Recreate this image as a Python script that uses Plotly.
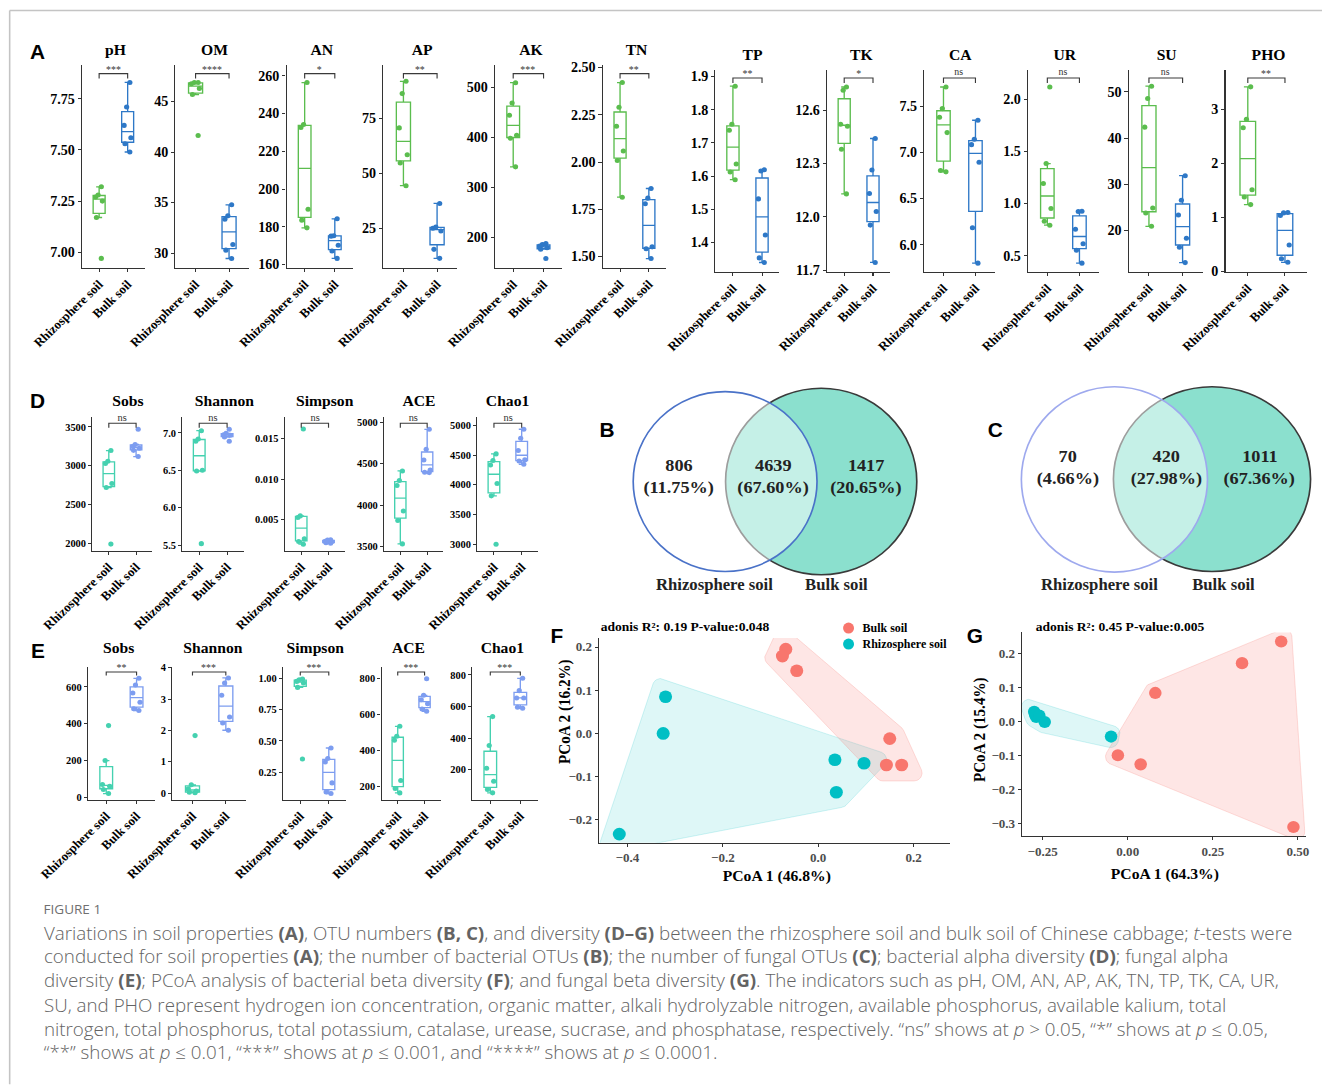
import numpy as np
import plotly.graph_objects as go

W, H = 1322, 1085
SERIF = "Liberation Serif"
SANS = "Liberation Sans"
CAPF = "Open Sans"

groups = ["Rhizosphere soil", "Bulk soil"]

# ---------------- Panel A: soil properties ----------------
soil_titles = ["pH", "OM", "AN", "AP", "AK", "TN", "TP", "TK", "CA", "UR", "SU", "PHO"]
soil_sig = ["***", "****", "*", "**", "***", "**", "**", "*", "ns", "ns", "ns", "**"]
pH_rhizo = [7.32, 7.28, 7.27, 7.25, 7.17, 6.97]
pH_bulk = [7.83, 7.71, 7.62, 7.56, 7.53, 7.49]
OM_rhizo = [46.88, 46.88, 46.75, 46.29, 45.69, 41.64]
OM_bulk = [34.78, 33.69, 33.36, 30.86, 30.30, 29.47]
AN_rhizo = [256.5, 234.2, 232.6, 189.3, 183.5, 179.4]
AN_bulk = [184.2, 175.2, 175.0, 170.2, 167.1, 163.2]
AP_rhizo = [91.9, 86.3, 70.7, 58.5, 54.7, 44.4]
AP_bulk = [36.3, 25.6, 25.0, 23.8, 15.4, 11.3]
AK_rhizo = [508.6, 468.1, 443.5, 403.5, 397.6, 340.4]
AK_bulk = [187.4, 185.0, 182.0, 179.0, 176.0, 157.4]
TN_rhizo = [2.421, 2.290, 2.190, 2.059, 2.008, 1.814]
TN_bulk = [1.860, 1.809, 1.779, 1.551, 1.541, 1.489]
TP_rhizo = [1.871, 1.756, 1.738, 1.636, 1.612, 1.589]
TP_bulk = [1.619, 1.615, 1.531, 1.422, 1.353, 1.339]
TK_rhizo = [12.731, 12.713, 12.521, 12.510, 12.381, 12.129]
TK_bulk = [12.441, 12.264, 12.131, 12.030, 11.953, 11.743]
CA_rhizo = [7.709, 7.475, 7.381, 7.215, 6.804, 6.790]
CA_bulk = [7.349, 7.143, 7.085, 6.894, 6.184, 5.802]
UR_rhizo = [2.118, 1.384, 1.193, 0.953, 0.832, 0.794]
UR_bulk = [0.928, 0.925, 0.755, 0.615, 0.554, 0.430]
SU_rhizo = [51.22, 48.56, 42.37, 24.89, 23.81, 20.94]
SU_bulk = [31.87, 26.55, 23.38, 18.35, 16.40, 13.09]
PHO_rhizo = [3.411, 2.810, 2.656, 1.509, 1.374, 1.233]
PHO_bulk = [1.086, 1.080, 1.031, 0.485, 0.233, 0.166]

# ---------------- Panel D: bacterial alpha diversity ----------------
alpha_titles = ["Sobs", "Shannon", "Simpson", "ACE", "Chao1"]
bac_sig = ["ns", "ns", "ns", "ns", "ns"]
Sobs_bac_rhizo = [3197, 3060, 3030, 2774, 2722, 1996]
Sobs_bac_bulk = [3470, 3275, 3250, 3228, 3200, 3120]
Shannon_bac_rhizo = [7.03, 6.92, 6.89, 6.50, 6.49, 5.52]
Shannon_bac_bulk = [7.05, 6.995, 6.975, 6.97, 6.945, 6.89]
Simpson_bac_rhizo = [0.01624, 0.005455, 0.005248, 0.002603, 0.002273, 0.001942]
Simpson_bac_bulk = [0.00250, 0.00245, 0.00230, 0.00225, 0.00212, 0.00205]
ACE_bac_rhizo = [4415, 4300, 4240, 3931, 3815, 3532]
ACE_bac_bulk = [4919, 4677, 4548, 4427, 4399, 4395]
Chao1_bac_rhizo = [4520, 4410, 4335, 4022, 3816, 3006]
Chao1_bac_bulk = [4933, 4782, 4575, 4419, 4402, 4346]

# ---------------- Panel E: fungal alpha diversity ----------------
fun_sig = ["**", "***", "***", "***", "***"]
Sobs_fun_rhizo = [389.7, 199.4, 68.9, 59.8, 41.7, 19.9]
Sobs_fun_bulk = [647, 611, 567, 517, 481, 472]
Shannon_fun_rhizo = [1.84, 0.27, 0.14, 0.07, 0.03, 0.02]
Shannon_fun_bulk = [3.681, 3.521, 3.128, 2.436, 2.245, 2.011]
Simpson_fun_rhizo = [0.995, 0.989, 0.976, 0.963, 0.928, 0.356]
Simpson_fun_bulk = [0.444, 0.360, 0.332, 0.165, 0.093, 0.080]
ACE_fun_rhizo = [535.2, 479.6, 457.4, 233.3, 188.9, 164.8]
ACE_fun_bulk = [800.0, 707.4, 683.3, 661.0, 631.5, 618.5]
Chao1_fun_rhizo = [536.8, 353.7, 210.5, 128.4, 75.8, 54.7]
Chao1_fun_bulk = [779, 701, 654.7, 654.7, 595.8, 589.5]

# ---------------- Venn (B, C) ----------------
venn_labels = ["Rhizosphere soil", "Bulk soil"]
venn_B = [806, 4639, 1417]
venn_C = [70, 420, 1011]

# ---------------- PCoA (F, G) ----------------
F_bulk_pc1 = [-0.068, -0.075, -0.045, 0.150, 0.143, 0.175]
F_bulk_pc2 = [0.195, 0.179, 0.145, -0.012, -0.073, -0.073]
F_rhizo_pc1 = [-0.320, -0.325, 0.035, 0.096, 0.038, -0.417]
F_rhizo_pc2 = [0.085, 0.000, -0.061, -0.069, -0.136, -0.233]
G_bulk_pc1 = [0.451, 0.336, 0.081, -0.029, 0.038, 0.487]
G_bulk_pc2 = [0.237, 0.173, 0.085, -0.099, -0.126, -0.311]
G_rhizo_pc1 = [-0.275, -0.272, -0.269, -0.260, -0.244, -0.049]
G_rhizo_pc2 = [0.029, 0.020, 0.014, 0.018, -0.001, -0.044]
F_stats = "adonis R²: 0.19 P-value:0.048"
G_stats = "adonis R²: 0.45 P-value:0.005"
F_axis_titles = ["PCoA 1 (46.8%)", "PCoA 2 (16.2%)"]
G_axis_titles = ["PCoA 1 (64.3%)", "PCoA 2 (15.4%)"]

# ---------------- styles / geometry ----------------
GREEN, BLUE = "#5BBD4E", "#2E78C7"
TEAL, PERI = "#45D1B0", "#7D9DF0"
RED, CYAN = "#F8766D", "#00BFC4"
AXC = "#333333"


def fx(x):
    return x / W


def fy(y):
    return 1 - y / H


fig = go.Figure()
layout_axes = {}
shapes = []
annotations = []
counter = [0]


def new_axes():
    counter[0] += 1
    i = counter[0]
    s = "" if i == 1 else str(i)
    return "x" + s, "y" + s, "xaxis" + s, "yaxis" + s


def axis_style(**kw):
    d = dict(showline=True, linecolor=AXC, linewidth=1.3, ticks="outside", ticklen=3,
             tickwidth=1, tickcolor=AXC, showgrid=False, zeroline=False, fixedrange=True)
    d.update(kw)
    return d


def box_stats(vals):
    v = np.sort(np.asarray(vals, float))
    q1, med, q3 = np.percentile(v, [25, 50, 75])
    iqr = q3 - q1
    lo = v[v >= q1 - 1.5 * iqr].min()
    hi = v[v <= q3 + 1.5 * iqr].max()
    return q1, med, q3, lo, hi


def add_text(x, y, text, size, family=SERIF, bold=True, color="black", xanchor="center",
             yanchor="middle", angle=0, weight=None):
    w = weight if weight is not None else ("bold" if bold else "normal")
    annotations.append(dict(x=fx(x), y=fy(y), xref="paper", yref="paper", text=text,
                            showarrow=False, xanchor=xanchor, yanchor=yanchor, textangle=angle,
                            font=dict(family=family, size=size, color=color, weight=w)))


def add_box_panel(rhizo, bulk, x0, x1, y0, y1, yr, tick0, dtick, fmt, tfs, cols,
                  title, tx, ty, sig, br_top, br_leg, sig_fs):
    xr, yrf, xk, yk = new_axes()
    layout_axes[xk] = axis_style(domain=[fx(x0), fx(x1)], anchor=yrf, range=[0.4, 2.6],
                                 tickmode="array", tickvals=[1, 2], ticktext=groups,
                                 tickangle=-45,
                                 tickfont=dict(family=SERIF, size=12.5, color="black", weight="bold"))
    layout_axes[yk] = axis_style(domain=[fy(y1), fy(y0)], anchor=xr, range=list(yr),
                                 tick0=tick0, dtick=dtick, tickformat=fmt,
                                 tickfont=dict(family=SERIF, size=tfs, color="black", weight="bold"))
    for pos, vals, col in ((1, rhizo, cols[0]), (2, bulk, cols[1])):
        q1, med, q3, lo, hi = box_stats(vals)
        fig.add_trace(go.Box(x=[pos], q1=[q1], median=[med], q3=[q3], lowerfence=[lo],
                             upperfence=[hi], width=0.42, fillcolor="white",
                             line=dict(color=col, width=1.3), boxpoints=False,
                             orientation="v", xaxis=xr, yaxis=yrf, hoverinfo="skip"))
        fig.add_trace(go.Box(x=[pos] * len(vals), y=vals, width=0.42, boxpoints="all",
                             jitter=0.7, pointpos=0, fillcolor="rgba(0,0,0,0)",
                             line=dict(color="rgba(0,0,0,0)", width=0),
                             marker=dict(color=col, size=5), orientation="v",
                             xaxis=xr, yaxis=yrf, hoverinfo="skip"))
    add_text(tx, ty, title, 15)
    shapes.append(dict(type="path", xref=xr, yref="paper",
                       path=f"M 1,{fy(br_leg)} L 1,{fy(br_top)} L 2,{fy(br_top)} L 2,{fy(br_leg)}",
                       line=dict(color="#3a3a3a", width=1.1)))
    off = 1.5 if sig == "ns" else 3.5
    annotations.append(dict(x=1.5, xref=xr, y=fy(br_top + off), yref="paper", text=sig,
                            showarrow=False, xanchor="center", yanchor="bottom",
                            font=dict(family=SERIF, size=sig_fs, color="#333333")))


# ---- Panel A ----
A_data = [(pH_rhizo, pH_bulk), (OM_rhizo, OM_bulk), (AN_rhizo, AN_bulk), (AP_rhizo, AP_bulk),
          (AK_rhizo, AK_bulk), (TN_rhizo, TN_bulk), (TP_rhizo, TP_bulk), (TK_rhizo, TK_bulk),
          (CA_rhizo, CA_bulk), (UR_rhizo, UR_bulk), (SU_rhizo, SU_bulk), (PHO_rhizo, PHO_bulk)]
A_geom = [(82.3, 145.0, 116), (175.7, 249.3, 215), (286.7, 353.0, 322), (383.3, 457.3, 422),
          (495.0, 561.7, 531), (602.7, 666.0, 636), (715.3, 779.3, 752), (826.7, 890.0, 861),
          (924.0, 994.3, 960), (1027.7, 1098.3, 1065), (1128.3, 1202.3, 1166), (1225.0, 1306.7, 1268)]
A_yr = [(6.924, 7.917), (28.55, 48.65), (158.2, 266.0), (7, 99.5), (138.7, 544.7), (1.44, 2.516),
        (1.311, 1.921), (11.69, 12.829), (5.708, 7.897), (0.347, 2.284), (11.1, 54.8), (-0.01, 3.73)]
A_ticks = [(7.0, 0.25, ".2f"), (0, 5, ""), (0, 20, ""), (0, 25, ""), (0, 100, ""), (1.5, 0.25, ".2f"),
           (1.4, 0.1, ".1f"), (11.7, 0.3, ".1f"), (6.0, 0.5, ".1f"), (0.5, 0.5, ".1f"), (0, 10, ""), (0, 1, "")]
for k in range(12):
    (r, b), (x0, x1, tx), yr, (t0, dt, fmt) = A_data[k], A_geom[k], A_yr[k], A_ticks[k]
    if k < 6:
        y0, y1, ty, bt, bl = 64.3, 267.7, 50, 73.3, 78.3
    else:
        y0, y1, ty, bt, bl = 69.3, 271.7, 55, 77.7, 82.7
    add_box_panel(r, b, x0, x1, y0, y1, yr, t0, dt, fmt, 13.5, (GREEN, BLUE),
                  soil_titles[k], tx, ty, soil_sig[k], bt, bl, 9.5)

# ---- Panel D ----
D_data = [(Sobs_bac_rhizo, Sobs_bac_bulk), (Shannon_bac_rhizo, Shannon_bac_bulk),
          (Simpson_bac_rhizo, Simpson_bac_bulk), (ACE_bac_rhizo, ACE_bac_bulk),
          (Chao1_bac_rhizo, Chao1_bac_bulk)]
D_geom = [(92.7, 152.7, 128.3), (182.7, 244.0, 224.3), (285.0, 345.0, 325.7), (384.3, 443.3, 419.0),
          (477.3, 538.3, 507.3)]
D_yr = [(1914, 3625), (5.428, 7.21), (0.00116, 0.01769), (3452, 5065), (2900, 5134)]
D_ticks = [(0, 500, ""), (5.5, 0.5, ".1f"), (0, 0.005, ".3f"), (0, 500, ""), (0, 500, "")]
for k in range(5):
    (r, b), (x0, x1, tx), yr, (t0, dt, fmt) = D_data[k], D_geom[k], D_yr[k], D_ticks[k]
    add_box_panel(r, b, x0, x1, 417.3, 550.7, yr, t0, dt, fmt, 10, (TEAL, PERI),
                  alpha_titles[k], tx, 401.7, bac_sig[k], 423.3, 427.7, 10)

# ---- Panel E ----
E_data = [(Sobs_fun_rhizo, Sobs_fun_bulk), (Shannon_fun_rhizo, Shannon_fun_bulk),
          (Simpson_fun_rhizo, Simpson_fun_bulk), (ACE_fun_rhizo, ACE_fun_bulk),
          (Chao1_fun_rhizo, Chao1_fun_bulk)]
E_geom = [(88.3, 155.0, 118.7), (172.7, 246.0, 213.7), (283.3, 346.0, 316.3), (381.7, 440.7, 408.3),
          (472.3, 538.3, 502.3)]
E_yr = [(-12.5, 708.7), (-0.2, 4.03), (0.032, 1.091), (127.8, 865), (12.4, 850.5)]
E_ticks = [(0, 200, ""), (0, 1, ""), (0, 0.25, ".2f"), (0, 200, ""), (0, 200, "")]
for k in range(5):
    (r, b), (x0, x1, tx), yr, (t0, dt, fmt) = E_data[k], E_geom[k], E_yr[k], E_ticks[k]
    add_box_panel(r, b, x0, x1, 667.3, 800.0, yr, t0, dt, fmt, 10, (TEAL, PERI),
                  alpha_titles[k], tx, 648.3, fun_sig[k], 672.3, 675.7, 9.5)


# ---- PCoA panels ----
def convex_hull(pts):
    pts = sorted(set(map(tuple, np.round(np.asarray(pts), 6))))

    def cross(o, a, b):
        return (a[0] - o[0]) * (b[1] - o[1]) - (a[1] - o[1]) * (b[0] - o[0])

    lower, upper = [], []
    for p in pts:
        while len(lower) >= 2 and cross(lower[-2], lower[-1], p) <= 0:
            lower.pop()
        lower.append(p)
    for p in reversed(pts):
        while len(upper) >= 2 and cross(upper[-2], upper[-1], p) <= 0:
            upper.pop()
        upper.append(p)
    return np.array(lower[:-1] + upper[:-1], float)


def mark_hull(xs, ys, sx, sy, expand, radius, limit=3.0):
    """Expanded hull with rounded corners (mitred offset, then rounded)."""
    p = np.column_stack([np.asarray(xs) * sx, np.asarray(ys) * sy])
    hull = convex_hull(p)
    n = len(hull)
    d = expand - radius
    offs = []
    for i in range(n):
        a, b, c = hull[i - 1], hull[i], hull[(i + 1) % n]
        e1, e2 = b - a, c - b
        n1 = np.array([e1[1], -e1[0]]) / np.linalg.norm(e1)
        n2 = np.array([e2[1], -e2[0]]) / np.linalg.norm(e2)
        den = 1 + n1 @ n2
        if den < 2.0 / limit ** 2:
            offs.append(b + d * n1)
            offs.append(b + d * n2)
        else:
            offs.append(b + d * (n1 + n2) / den)
    offs = np.array(offs)
    ang = np.linspace(0, 2 * np.pi, 48, endpoint=False)
    ring = np.column_stack([np.cos(ang), np.sin(ang)]) * radius
    allp = (offs[:, None, :] + ring[None, :, :]).reshape(-1, 2)
    h = convex_hull(allp)
    h = np.vstack([h, h[:1]])
    return h[:, 0] / sx, h[:, 1] / sy


def add_pcoa(bx, by, rx, ry, x0, x1, y0, y1, xrng, yrng, xdt, xfmt, expand, radius, msize):
    xr, yrf, xk, yk = new_axes()
    tf = dict(family=SERIF, size=12.5, color="#4D4D4D", weight="bold")
    layout_axes[xk] = axis_style(domain=[fx(x0), fx(x1)], anchor=yrf, range=list(xrng),
                                 tick0=0, dtick=xdt, tickformat=xfmt, tickfont=tf)
    layout_axes[yk] = axis_style(domain=[fy(y1), fy(y0)], anchor=xr, range=list(yrng),
                                 tick0=0, dtick=0.1, tickformat=".1f", tickfont=tf)
    sx = (x1 - x0) / (xrng[1] - xrng[0])
    sy = (y1 - y0) / (yrng[1] - yrng[0])
    for xs, ys, fill, edge in ((rx, ry, "rgba(0,191,196,0.13)", "rgba(0,191,196,0.22)"),
                               (bx, by, "rgba(248,118,109,0.18)", "rgba(248,118,109,0.28)")):
        hx, hy = mark_hull(xs, ys, sx, sy, expand, radius)
        fig.add_trace(go.Scatter(x=hx, y=hy, mode="lines", fill="toself", fillcolor=fill,
                                 line=dict(color=edge, width=0.8),
                                 xaxis=xr, yaxis=yrf, hoverinfo="skip"))
    for xs, ys, col in ((bx, by, RED), (rx, ry, CYAN)):
        fig.add_trace(go.Scatter(x=xs, y=ys, mode="markers", marker=dict(color=col, size=msize),
                                 xaxis=xr, yaxis=yrf, hoverinfo="skip", cliponaxis=False))


add_pcoa(F_bulk_pc1, F_bulk_pc2, F_rhizo_pc1, F_rhizo_pc2, 599.0, 949.3, 638.3, 843.3,
         (-0.4594, 0.2755), (-0.2531, 0.2208), 0.2, ".1f", 16, 8, 12.5)
add_pcoa(G_bulk_pc1, G_bulk_pc2, G_rhizo_pc1, G_rhizo_pc2, 1021.7, 1305.0, 632.7, 836.7,
         (-0.3106, 0.5226), (-0.3383, 0.2637), 0.25, ".2f", 11, 8, 12)

add_text(598, 626, F_stats, 13, xanchor="left")
add_text(1033, 626, G_stats, 13, xanchor="left")
add_text(776.7, 876.7, F_axis_titles[0], 15)
add_text(565, 712, F_axis_titles[1], 15, angle=-90)
add_text(1165, 875, G_axis_titles[0], 15)
add_text(980, 730, G_axis_titles[1], 15, angle=-90)

# legend of F
for (cy, col, lab) in ((628.3, RED, "Bulk soil"), (644.3, CYAN, "Rhizosphere soil")):
    r = 5.5
    shapes.append(dict(type="circle", xref="paper", yref="paper", x0=fx(848.3 - r), x1=fx(848.3 + r),
                       y0=fy(cy + r), y1=fy(cy - r), fillcolor=col, line=dict(width=0)))
    add_text(860, cy, lab, 11.5, xanchor="left")


# ---- Venn diagrams ----
def add_venn(counts, left_box, right_box, left_line, num_y, pct_y, num_x, lab_x):
    total = float(sum(counts))
    lx0, lx1, ly0, ly1 = left_box
    rx0, rx1, ry0, ry1 = right_box
    shapes.append(dict(type="circle", xref="paper", yref="paper", x0=fx(rx0), x1=fx(rx1),
                       y0=fy(ry1), y1=fy(ry0), fillcolor="#8BE0CE",
                       line=dict(color="#3a3a3a", width=1.6), layer="below"))
    shapes.append(dict(type="circle", xref="paper", yref="paper", x0=fx(lx0), x1=fx(lx1),
                       y0=fy(ly1), y1=fy(ly0), fillcolor="rgba(255,255,255,0.5)",
                       line=dict(color=left_line, width=1.6), layer="below"))
    for c, x in zip(counts, num_x):
        add_text(x, num_y, f"{c}", 17.5, color="#222222")
        add_text(x, pct_y, f"({100 * c / total:.2f}%)", 17.5, color="#222222")
    for lab, x in zip(venn_labels, lab_x):
        add_text(x, 585, lab, 16, color="#222222")


add_venn(venn_B, (633.1, 816.8, 391.7, 571.7), (725.4, 916.5, 388.3, 575.0), "#4A72C8",
         465, 487, (679, 773, 866), (715, 837))
add_venn(venn_C, (1021.0, 1207.0, 386.7, 572.3), (1113.0, 1310.0, 386.7, 571.7), "#9EA9EE",
         456, 478, (1068, 1166, 1259), (1099, 1223))

# ---- panel letters ----
for lab, x, y in (("A", 38, 52), ("B", 607, 430), ("C", 995, 430), ("D", 38, 401), ("E", 38, 651),
                  ("F", 557, 636), ("G", 975, 636)):
    add_text(x, y, lab, 20, family=SANS)

# ---- frame ----
shapes.append(dict(type="line", xref="paper", yref="paper", x0=fx(10), x1=1, y0=fy(10), y1=fy(10),
                   line=dict(color="#c4c4c4", width=1.5)))
shapes.append(dict(type="line", xref="paper", yref="paper", x0=fx(10), x1=fx(10), y0=fy(10), y1=0,
                   line=dict(color="#c4c4c4", width=1.5)))

# ---- caption ----
caption_lines = [
    "Variations in soil properties <b>(A)</b>, OTU numbers <b>(B, C)</b>, and diversity <b>(D–G)</b> between the rhizosphere soil and bulk soil of Chinese cabbage; <i>t</i>-tests were",
    "conducted for soil properties <b>(A)</b>; the number of bacterial OTUs <b>(B)</b>; the number of fungal OTUs <b>(C)</b>; bacterial alpha diversity <b>(D)</b>; fungal alpha",
    "diversity <b>(E)</b>; PCoA analysis of bacterial beta diversity <b>(F)</b>; and fungal beta diversity <b>(G)</b>. The indicators such as pH, OM, AN, AP, AK, TN, TP, TK, CA, UR,",
    "SU, and PHO represent hydrogen ion concentration, organic matter, alkali hydrolyzable nitrogen, available phosphorus, available kalium, total",
    "nitrogen, total phosphorus, total potassium, catalase, urease, sucrase, and phosphatase, respectively. “ns” shows at <i>p</i> &gt; 0.05, “*” shows at <i>p</i> ≤ 0.05,",
    "“**” shows at <i>p</i> ≤ 0.01, “***” shows at <i>p</i> ≤ 0.001, and “****” shows at <i>p</i> ≤ 0.0001.",
]
add_text(42, 909, "FIGURE 1", 13, family=CAPF, color="#707070", xanchor="left", weight=500)
for i, line in enumerate(caption_lines):
    add_text(42, 933 + 24 * i, line, 18, family=CAPF, color="#636363", xanchor="left", weight=300)

fig.update_layout(width=W, height=H, margin=dict(l=0, r=0, t=0, b=0), paper_bgcolor="white",
                  plot_bgcolor="rgba(0,0,0,0)", showlegend=False, boxmode="overlay",
                  shapes=shapes, annotations=annotations, **layout_axes)

post = """
var d = document.getElementById('{plot_id}');
document.documentElement.style.overflow = 'hidden';
document.body.style.overflow = 'hidden';
document.body.style.margin = '0';
d.style.transformOrigin = '0 0';
d.style.transform = 'translate(-52.5px,-4.65px) scale(1.0433,1.0101)';
"""
fig.write_html("out.html", include_plotlyjs=True, full_html=True,
               config=dict(displayModeBar=False), post_script=post)
